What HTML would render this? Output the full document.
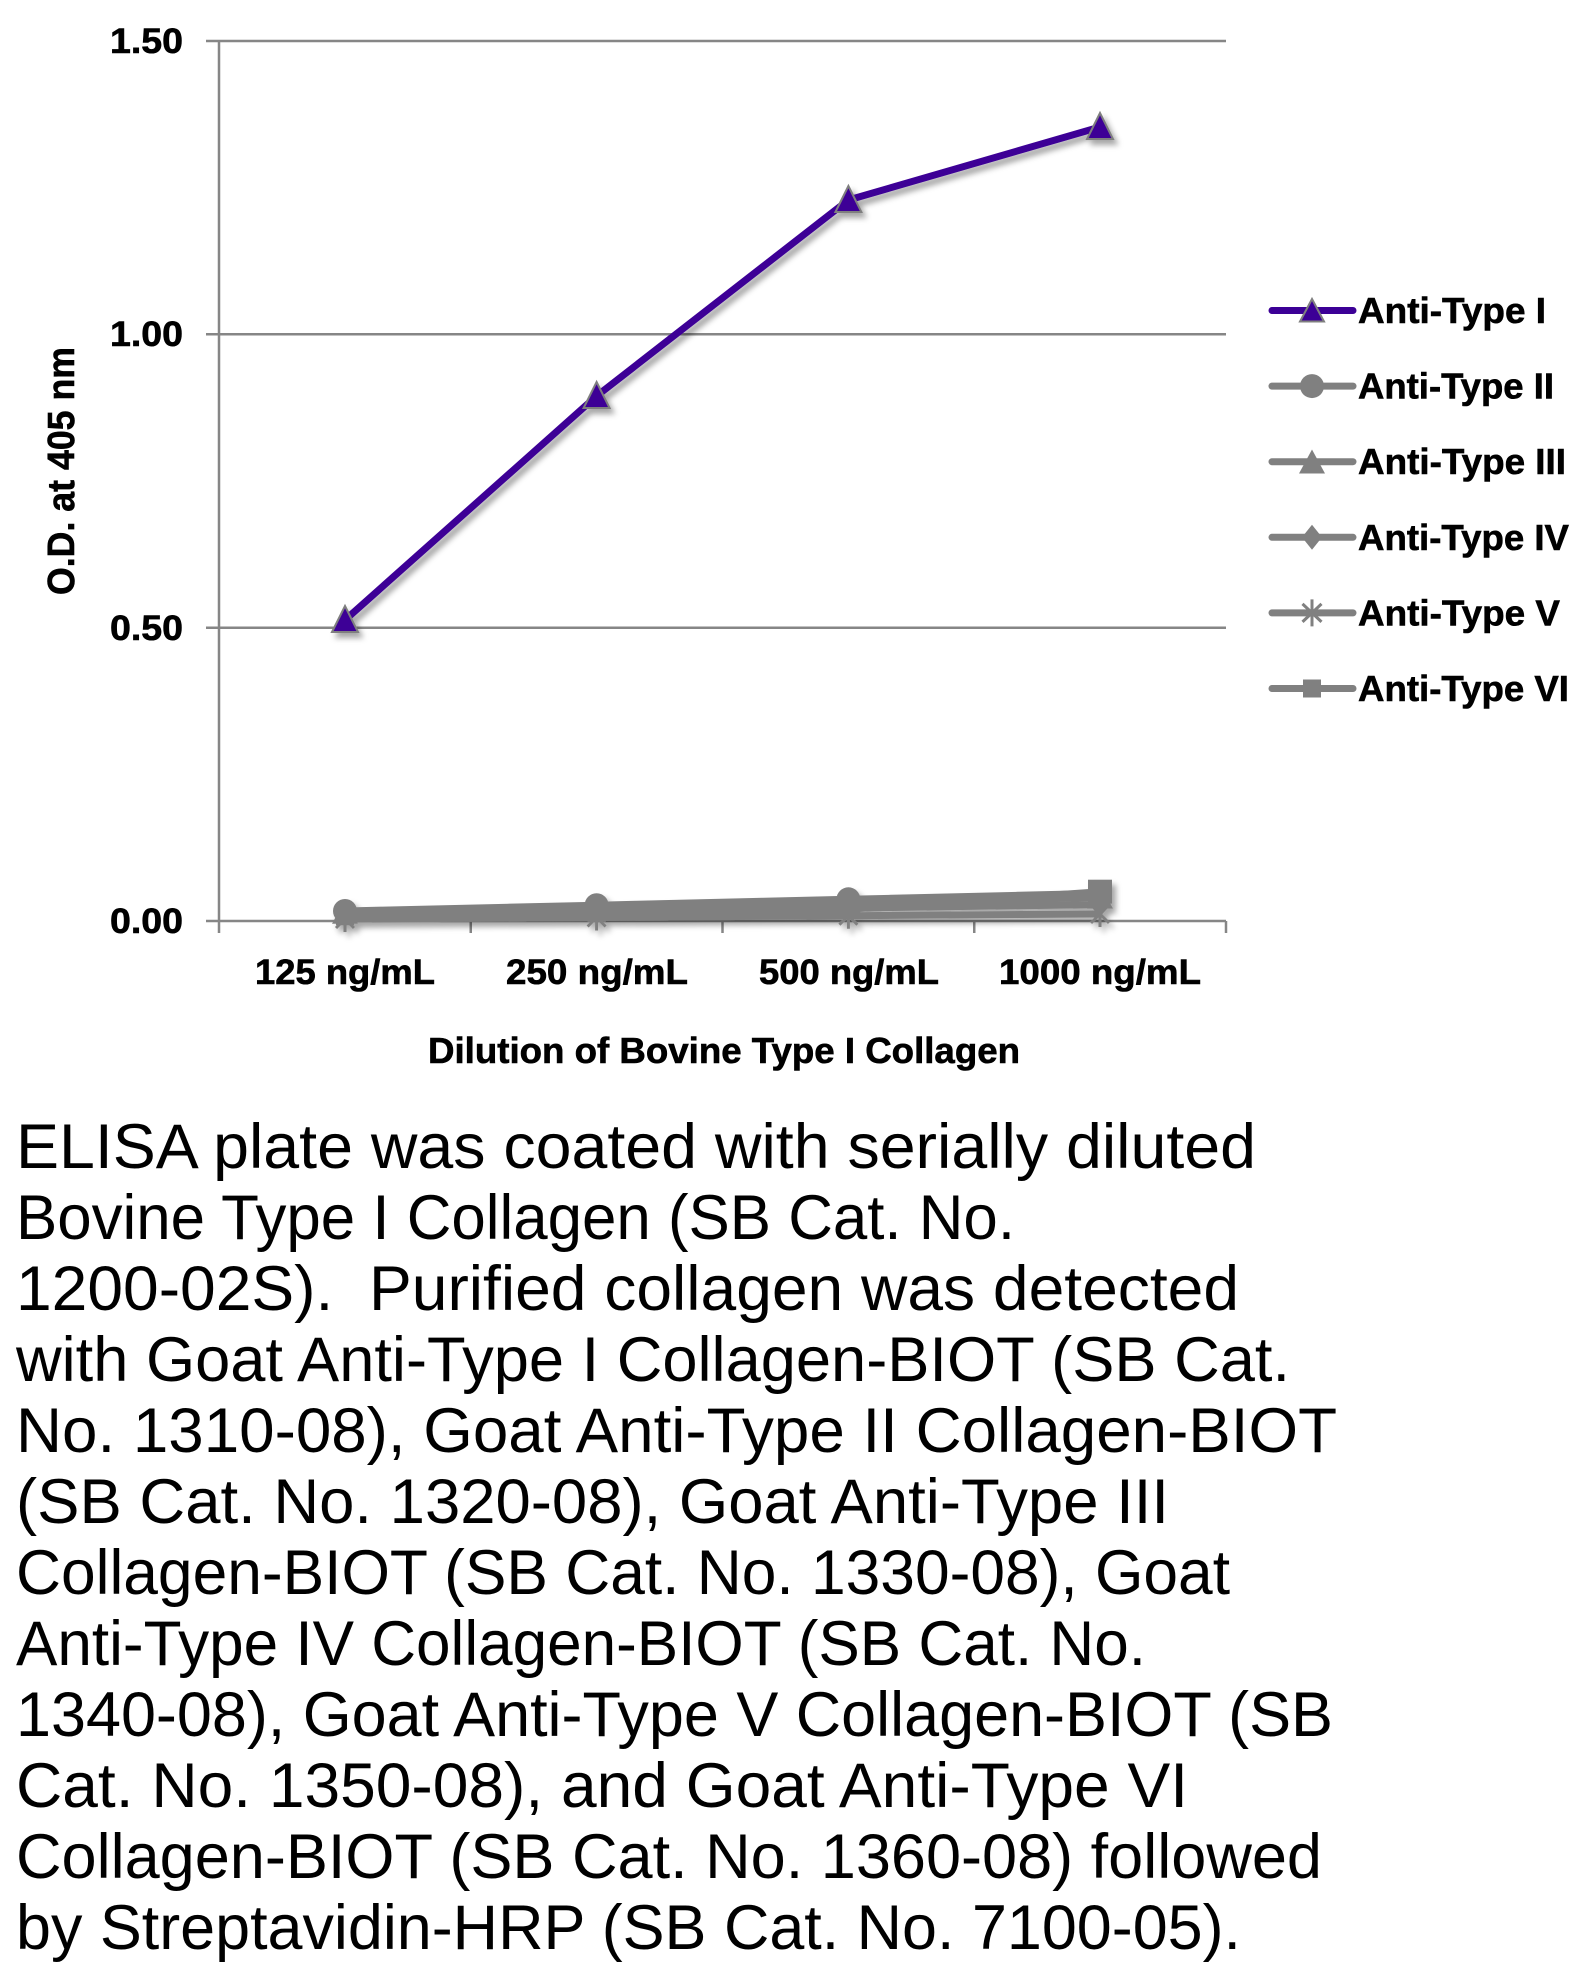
<!DOCTYPE html>
<html>
<head>
<meta charset="utf-8">
<style>
html,body{margin:0;padding:0;background:#fff;}
body{width:1596px;height:1976px;overflow:hidden;}
svg{display:block;}
.lbl{font-family:"Liberation Sans",sans-serif;font-weight:bold;fill:#000;stroke:#000;stroke-width:0.6;}
.para{font-family:"Liberation Sans",sans-serif;font-size:63px;fill:#000;white-space:pre;}
</style>
</head>
<body>
<svg width="1596" height="1976" viewBox="0 0 1596 1976" xmlns="http://www.w3.org/2000/svg">
<defs>
<filter id="sh" x="-20%" y="-20%" width="140%" height="160%">
<feDropShadow dx="4" dy="5" stdDeviation="3" flood-color="#000" flood-opacity="0.35"/>
</filter>
</defs>

<!-- gridlines -->
<g stroke="#868686" stroke-width="2.5" fill="none">
<line x1="206" y1="41" x2="1226" y2="41"/>
<line x1="206" y1="334.3" x2="1226" y2="334.3"/>
<line x1="206" y1="627.7" x2="1226" y2="627.7"/>
<line x1="206" y1="921" x2="1226" y2="921"/>
<line x1="219" y1="41" x2="219" y2="933"/>
<line x1="470.75" y1="921" x2="470.75" y2="933"/>
<line x1="722.5" y1="921" x2="722.5" y2="933"/>
<line x1="974.25" y1="921" x2="974.25" y2="933"/>
<line x1="1226" y1="921" x2="1226" y2="933"/>
</g>

<!-- y tick labels -->
<g class="lbl" font-size="35" text-anchor="end">
<text x="183" y="53" textLength="73" lengthAdjust="spacingAndGlyphs">1.50</text>
<text x="183" y="346" textLength="73" lengthAdjust="spacingAndGlyphs">1.00</text>
<text x="183" y="640" textLength="73" lengthAdjust="spacingAndGlyphs">0.50</text>
<text x="183" y="933" textLength="73" lengthAdjust="spacingAndGlyphs">0.00</text>
</g>

<!-- y title -->
<text class="lbl" font-size="38" text-anchor="middle" transform="translate(74,471) rotate(-90)" textLength="248" lengthAdjust="spacingAndGlyphs">O.D. at 405 nm</text>

<!-- x labels -->
<g class="lbl" font-size="35" text-anchor="middle">
<text x="345" y="984" textLength="180" lengthAdjust="spacingAndGlyphs">125 ng/mL</text>
<text x="597" y="984" textLength="182" lengthAdjust="spacingAndGlyphs">250 ng/mL</text>
<text x="849" y="984" textLength="180" lengthAdjust="spacingAndGlyphs">500 ng/mL</text>
<text x="1100" y="984" textLength="202" lengthAdjust="spacingAndGlyphs">1000 ng/mL</text>
</g>

<!-- x title -->
<text class="lbl" font-size="36" x="428" y="1063" textLength="592" lengthAdjust="spacingAndGlyphs">Dilution of Bovine Type I Collagen</text>

<!-- gray series -->
<g filter="url(#sh)">
<g stroke="#808080" stroke-width="7" fill="none" stroke-linejoin="round">
<polyline points="345,911 596.6,905.2 848.4,899.3 1100,893.4"/>
<polyline points="345,912.8 596.6,908.1 848.4,903.4 1100,897.5"/>
<polyline points="345,915.1 596.6,911.6 848.4,908.1 1100,904.6"/>
<polyline points="345,919.2 596.6,917.5 848.4,915.7 1100,914"/>
<polyline points="345,916.3 596.6,912.8 848.4,909.3 1100,891.7"/>
</g>
<g fill="#808080">
<circle cx="345" cy="911" r="12"/>
<circle cx="596.6" cy="905.2" r="12"/>
<circle cx="848.4" cy="899.3" r="12"/>
<circle cx="1100" cy="893.4" r="12"/>
<polygon points="345,899.8 358,923.8 332,923.8"/>
<polygon points="596.6,895.1 609.6,919.1 583.6,919.1"/>
<polygon points="848.4,890.4 861.4,914.4 835.4,914.4"/>
<polygon points="1100,884.5 1113,908.5 1087,908.5"/>
<polygon points="345,902.6 355,915.1 345,927.6 335,915.1"/>
<polygon points="596.6,899.1 606.6,911.6 596.6,924.1 586.6,911.6"/>
<polygon points="848.4,895.6 858.4,908.1 848.4,920.6 838.4,908.1"/>
<polygon points="1100,892.1 1110,904.6 1100,917.1 1090,904.6"/>
<rect x="336" y="907.3" width="18" height="18"/>
<rect x="587.6" y="903.8" width="18" height="18"/>
<rect x="839.4" y="900.3" width="18" height="18"/>
<rect x="1088" y="879.7" width="24" height="24"/>
</g>
<g stroke="#808080" stroke-width="3">
<path d="M345 906v26M336 910l18 18M354 910l-18 18"/>
<path d="M596.6 904.5v26M587.6 908.5l18 18M605.6 908.5l-18 18"/>
<path d="M848.4 902.7v26M839.4 906.7l18 18M857.4 906.7l-18 18"/>
<path d="M1100 901v26M1091 905l18 18M1109 905l-18 18"/>
</g>
</g>

<!-- purple series -->
<g filter="url(#sh)">
<polyline points="345,620 596.6,396 848.4,200 1100,127" stroke="#3C0096" stroke-width="7" fill="none" stroke-linejoin="round"/>
<g fill="#3C0096" stroke="#7F7F7F" stroke-width="2">
<polygon points="345,606 358,632 332,632"/>
<polygon points="596.6,382 609.6,408 583.6,408"/>
<polygon points="848.4,186 861.4,212 835.4,212"/>
<polygon points="1100,113 1113,139 1087,139"/>
</g>
</g>

<!-- legend -->
<g stroke-linecap="round" stroke-width="7">
<line x1="1272" y1="310.5" x2="1353" y2="310.5" stroke="#3C0096"/>
<line x1="1272" y1="386.1" x2="1353" y2="386.1" stroke="#808080"/>
<line x1="1272" y1="461.7" x2="1353" y2="461.7" stroke="#808080"/>
<line x1="1272" y1="537.3" x2="1353" y2="537.3" stroke="#808080"/>
<line x1="1272" y1="612.9" x2="1353" y2="612.9" stroke="#808080"/>
<line x1="1272" y1="688.5" x2="1353" y2="688.5" stroke="#808080"/>
</g>
<polygon points="1312,299 1324,321.5 1300,321.5" fill="#3C0096" stroke="#7F7F7F" stroke-width="2"/>
<circle cx="1312" cy="386.1" r="12" fill="#808080"/>
<polygon points="1312,449.5 1325,473.5 1299,473.5" fill="#808080"/>
<polygon points="1312,524.8 1322,537.3 1312,549.8 1302,537.3" fill="#808080"/>
<path d="M1312 599.4v27M1302.5 603.9l19 18M1321.5 603.9l-19 18" stroke="#808080" stroke-width="3"/>
<rect x="1303" y="679.5" width="18" height="18" fill="#808080"/>

<g class="lbl" font-size="36">
<text x="1358" y="323" textLength="188" lengthAdjust="spacingAndGlyphs">Anti-Type I</text>
<text x="1358" y="398.6" textLength="196" lengthAdjust="spacingAndGlyphs">Anti-Type II</text>
<text x="1358" y="474.2" textLength="208" lengthAdjust="spacingAndGlyphs">Anti-Type III</text>
<text x="1358" y="549.8" textLength="211" lengthAdjust="spacingAndGlyphs">Anti-Type IV</text>
<text x="1358" y="625.4" textLength="202" lengthAdjust="spacingAndGlyphs">Anti-Type V</text>
<text x="1358" y="701" textLength="211" lengthAdjust="spacingAndGlyphs">Anti-Type VI</text>
</g>

<!-- paragraph -->
<g class="para">
<text x="16" y="1168" textLength="1240" lengthAdjust="spacingAndGlyphs">ELISA plate was coated with serially diluted</text>
<text x="16" y="1239" textLength="999" lengthAdjust="spacingAndGlyphs">Bovine Type I Collagen (SB Cat. No.</text>
<text x="16" y="1310" textLength="1223" lengthAdjust="spacingAndGlyphs" xml:space="preserve">1200-02S).&#160; Purified collagen was detected</text>
<text x="16" y="1381" textLength="1274" lengthAdjust="spacingAndGlyphs">with Goat Anti-Type I Collagen-BIOT (SB Cat.</text>
<text x="16" y="1452" textLength="1321" lengthAdjust="spacingAndGlyphs">No. 1310-08), Goat Anti-Type II Collagen-BIOT</text>
<text x="16" y="1523" textLength="1153" lengthAdjust="spacingAndGlyphs">(SB Cat. No. 1320-08), Goat Anti-Type III</text>
<text x="16" y="1594" textLength="1214" lengthAdjust="spacingAndGlyphs">Collagen-BIOT (SB Cat. No. 1330-08), Goat</text>
<text x="16" y="1665" textLength="1130" lengthAdjust="spacingAndGlyphs">Anti-Type IV Collagen-BIOT (SB Cat. No.</text>
<text x="16" y="1736" textLength="1317" lengthAdjust="spacingAndGlyphs">1340-08), Goat Anti-Type V Collagen-BIOT (SB</text>
<text x="16" y="1807" textLength="1172" lengthAdjust="spacingAndGlyphs">Cat. No. 1350-08), and Goat Anti-Type VI</text>
<text x="16" y="1878" textLength="1306" lengthAdjust="spacingAndGlyphs">Collagen-BIOT (SB Cat. No. 1360-08) followed</text>
<text x="16" y="1949" textLength="1225" lengthAdjust="spacingAndGlyphs">by Streptavidin-HRP (SB Cat. No. 7100-05).</text>
</g>
</svg>
</body>
</html>
